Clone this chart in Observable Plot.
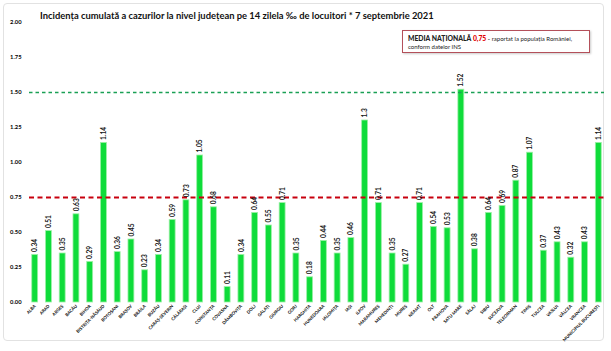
<!DOCTYPE html>
<html><head><meta charset="utf-8">
<script src="https://cdn.jsdelivr.net/npm/d3@7"></script>
<script src="https://cdn.jsdelivr.net/npm/@observablehq/plot@0.6"></script>
<style>
body{margin:0;background:#fff;}
#wrap{position:relative;width:611px;height:351px;overflow:hidden;font-family:Lato,"Liberation Sans",sans-serif;}
#frame{position:absolute;left:3px;top:3px;width:599px;height:336px;border:1px solid #e2e2e2;border-radius:4px;}
#title{position:absolute;left:40px;top:10px;font-weight:bold;font-size:9.4px;color:#111;white-space:nowrap;}
#box{position:absolute;left:402px;top:30px;width:188px;height:23px;border:1px solid #b4505a;box-shadow:1px 1px 2px #ccc;font-size:6px;line-height:8px;padding:3px 0 0 5px;box-sizing:border-box;color:#222;white-space:nowrap;}
#chart{position:absolute;left:0;top:0;}
</style></head>
<body><div id="wrap"><div id="frame"></div><div id="chart"></div>
<div id="title">Incidența cumulată a cazurilor la nivel județean pe 14 zilela ‰ de locuitori * 7 septembrie 2021</div>
<div id="box"><b style="font-size:6.8px;font-weight:900">MEDIA NAȚIONALĂ</b> <b style="color:#e00000;font-size:6.8px;font-weight:900">0,75</b> <b>-</b> raportat la populația României,<br>conform datelor INS</div>
</div>
<script>
const counties = ["ALBA","ARAD","ARGEȘ","BACĂU","BIHOR","BISTRIȚA-NĂSĂUD","BOTOȘANI","BRAȘOV","BRĂILA","BUZĂU","CARAȘ-SEVERIN","CĂLĂRAȘI","CLUJ","CONSTANȚA","COVASNA","DÂMBOVIȚA","DOLJ","GALAȚI","GIURGIU","GORJ","HARGHITA","HUNEDOARA","IALOMIȚA","IAȘI","ILFOV","MARAMUREȘ","MEHEDINȚI","MUREȘ","NEAMȚ","OLT","PRAHOVA","SATU MARE","SĂLAJ","SIBIU","SUCEAVA","TELEORMAN","TIMIȘ","TULCEA","VASLUI","VÂLCEA","VRANCEA","MUNICIPIUL BUCUREȘTI"];
const values = [0.34,0.51,0.35,0.63,0.29,1.14,0.36,0.45,0.23,0.34,0.59,0.73,1.05,0.68,0.11,0.34,0.64,0.55,0.71,0.35,0.18,0.44,0.35,0.46,1.3,0.71,0.35,0.27,0.71,0.54,0.53,1.52,0.38,0.64,0.69,0.87,1.07,0.37,0.43,0.32,0.43,1.14];
const nationalAverage = 0.75;
const threshold = 1.5;
const yTicks = [0,0.25,0.5,0.75,1,1.25,1.5,1.75,2];

const data = counties.map((c,i)=>({county:c, value:values[i]}));
const fmt = v => String(v);

const chart = Plot.plot({
  width: 611, height: 351,
  marginLeft: 29, marginRight: 7, marginTop: 22, marginBottom: 49,
  style: {fontFamily: "Lato, 'Liberation Sans', sans-serif", background: "transparent", overflow: "visible"},
  x: {domain: counties, paddingInner: 0.57, paddingOuter: 0.2, label: null},
  y: {domain: [0,2], label: null},
  marks: [
    Plot.barY(data, {x:"county", y:"value", fill:"#0fdc3a", stroke:"#9cf0a6", strokeWidth:0.8}),
    Plot.ruleY([nationalAverage], {stroke:"#c8000e", strokeWidth:2, strokeDasharray:"5,3.5"}),
    Plot.ruleY([threshold], {stroke:"#1aa055", strokeWidth:1.3, strokeDasharray:"3.5,3"}),
    Plot.text(data, {x:"county", y:"value", text:d=>fmt(d.value), rotate:-90, textAnchor:"start", dy:-3, fontSize:6.6, fontWeight:"bold", fill:"#111"}),
    Plot.axisY({ticks: yTicks, tickSize:0, tickPadding:8, tickFormat:d=>d.toFixed(2), fontSize:5.8, fontWeight:"bold", label:null}),
    Plot.axisX({tickSize:0, tickPadding:3, tickRotate:-45, fontSize:4.3, fontWeight:"bold", label:null})
  ]
});
document.getElementById("chart").appendChild(chart);
</script>
</body></html>
